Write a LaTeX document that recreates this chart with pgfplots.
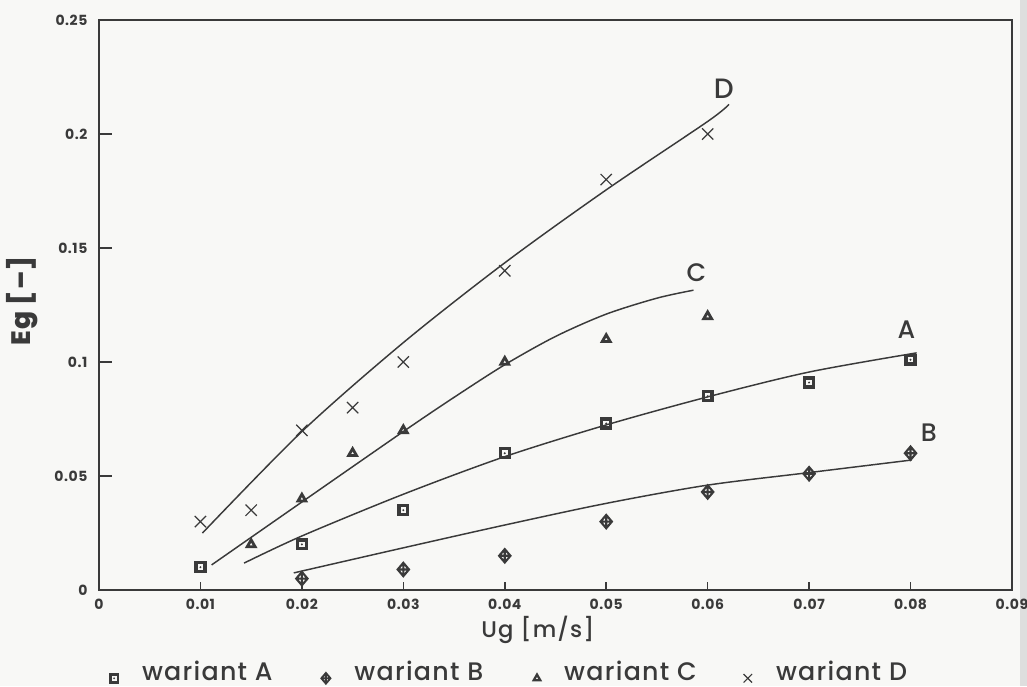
\documentclass[border=0pt]{standalone}
\usepackage{pgfplots}
\pgfplotsset{compat=1.18}
\usepackage{fontspec}
\setmainfont{Poppins}
\newfontfamily\medfont{Poppins Medium}[LetterSpace=5]
\newfontfamily\tickfont{Poppins}[LetterSpace=4]

\definecolor{ink}{HTML}{3A3A3A}
\definecolor{paper}{HTML}{F8F8F6}

% square with a dot in the middle
\pgfdeclareplotmark{sqdot}{%
  \pgfpathrectangle{\pgfqpoint{-\pgfplotmarksize}{-\pgfplotmarksize}}{\pgfqpoint{2\pgfplotmarksize}{2\pgfplotmarksize}}%
  \pgfusepathqstroke
  \pgfpathcircle{\pgfpointorigin}{0.25\pgfplotmarksize}%
  \pgfusepathqfill
}
% diamond with a cross inside
\pgfdeclareplotmark{diamplus}{%
  \pgfpathmoveto{\pgfqpoint{0pt}{\pgfplotmarksize}}%
  \pgfpathlineto{\pgfqpoint{.85\pgfplotmarksize}{0pt}}%
  \pgfpathlineto{\pgfqpoint{0pt}{-\pgfplotmarksize}}%
  \pgfpathlineto{\pgfqpoint{-.85\pgfplotmarksize}{0pt}}%
  \pgfpathclose
  \pgfpathmoveto{\pgfqpoint{0pt}{\pgfplotmarksize}}%
  \pgfpathlineto{\pgfqpoint{0pt}{-\pgfplotmarksize}}%
  \pgfpathmoveto{\pgfqpoint{-.85\pgfplotmarksize}{0pt}}%
  \pgfpathlineto{\pgfqpoint{.85\pgfplotmarksize}{0pt}}%
  \pgfusepathqstroke
}

\newcommand{\legtext}[1]{\makebox[148.5pt][l]{\hspace*{16pt}#1}}

\begin{document}
\begin{tikzpicture}
\fill[paper] (-74.25pt,-72pt) rectangle (696pt,442.5pt);
\useasboundingbox (-74.25pt,-72pt) rectangle (696pt,442.5pt);
\fill[black!13] (690.75pt,-72pt) rectangle (696pt,442.5pt);
\begin{axis}[
  scale only axis,
  width=684.75pt, height=427.5pt,
  xmin=0, xmax=0.09, ymin=0, ymax=0.25,
  axis line style={line width=1.5pt, ink},
  xtick={0,0.01,0.02,0.03,0.04,0.05,0.06,0.07,0.08,0.09},
  xticklabels={0,0.01,0.02,0.03,0.04,0.05,0.06,0.07,0.08,0.09},
  ytick={0,0.05,0.1,0.15,0.2,0.25},
  yticklabels={0,0.05,0.1,0.15,0.2,0.25},
  scaled x ticks=false, scaled y ticks=false,
  xtick pos=bottom, ytick pos=left, tick align=inside,
  major tick style={line width=1.1pt, ink},
  xtick style={/pgfplots/major tick length=6pt},
  ytick style={/pgfplots/major tick length=9.75pt},
  /pgf/number format/assume math mode=true,
  ticklabel style={font=\tickfont\bfseries\fontsize{10.5}{12}\selectfont, text=ink, inner sep=0pt},
  xticklabel style={anchor=north, yshift=-6.75pt},
  yticklabel style={anchor=east, xshift=-8.5pt},
  xlabel={Ug [m/s]},
  xlabel style={font=\medfont\fontsize{17}{20}\selectfont, text=ink,
    at={(axis description cs:0.4808,-0.0825)}, anchor=base},
  ylabel={Eg [\textendash]},
  ylabel style={font=\medfont\bfseries\fontsize{20}{24}\selectfont, text=ink,
    at={(axis description cs:-0.0843,0.507)}, anchor=center},
  legend columns=4,
  legend style={at={(axis description cs:0.0077,-0.1145)}, anchor=north west,
    draw=none, fill=none, column sep=0pt,
    font=\medfont\fontsize{19}{22}\selectfont, text=ink},
]

% fitted curves
\addplot[forget plot, ink, line width=1.1pt, smooth] coordinates {
  (0.0102,0.025) (0.020,0.0695) (0.030,0.1085) (0.040,0.1435)
  (0.050,0.1755) (0.060,0.2055) (0.0621,0.2130)};
\addplot[forget plot, ink, line width=1.1pt, smooth] coordinates {
  (0.0111,0.011) (0.020,0.0386) (0.030,0.0695) (0.035,0.0845)
  (0.040,0.0988) (0.045,0.1112) (0.050,0.1210) (0.055,0.1280) (0.0586,0.1315)};
\addplot[forget plot, ink, line width=1.1pt, smooth] coordinates {
  (0.0143,0.0118) (0.020,0.0237) (0.030,0.0420) (0.040,0.0585)
  (0.050,0.0724) (0.060,0.0847) (0.070,0.0956) (0.0806,0.104)};
\addplot[forget plot, ink, line width=1.1pt, smooth] coordinates {
  (0.0192,0.0075) (0.030,0.0185) (0.040,0.0285) (0.050,0.0380)
  (0.060,0.0460) (0.070,0.0515) (0.0801,0.057)};

% measured points
\addplot[only marks, forget plot, ink, mark=sqdot, mark size=3.3pt,
  mark options={line width=2.5pt}] coordinates {
  (0.01,0.010) (0.02,0.020) (0.03,0.035) (0.04,0.060)
  (0.05,0.073) (0.06,0.085) (0.07,0.091) (0.08,0.101)};
\addplot[only marks, forget plot, ink, mark=diamplus, mark size=5pt,
  mark options={line width=1.6pt}] coordinates {
  (0.02,0.005) (0.03,0.009) (0.04,0.015) (0.05,0.030)
  (0.06,0.043) (0.07,0.051) (0.08,0.060)};
\addplot[only marks, forget plot, ink, mark=triangle, mark size=3.4pt,
  mark options={line width=2.1pt}] coordinates {
  (0.015,0.020) (0.02,0.040) (0.025,0.060) (0.03,0.070)
  (0.04,0.100) (0.05,0.110) (0.06,0.120)};
\addplot[only marks, forget plot, ink, mark=x, mark size=6pt,
  mark options={line width=0.9pt}] coordinates {
  (0.01,0.030) (0.015,0.035) (0.02,0.070) (0.025,0.080)
  (0.03,0.100) (0.04,0.140) (0.05,0.180) (0.06,0.200)};

% curve names
\node[font=\medfont\fontsize{21}{24}\selectfont, text=ink] at (axis cs:0.0616,0.220) {D};
\node[font=\medfont\fontsize{19}{22}\selectfont, text=ink] at (axis cs:0.0589,0.139) {C};
\node[font=\medfont\fontsize{19}{22}\selectfont, text=ink] at (axis cs:0.0796,0.114) {A};
\node[font=\medfont\fontsize{19}{22}\selectfont, text=ink] at (axis cs:0.0818,0.069) {B};

% legend
\addlegendimage{only marks, ink, mark=sqdot, mark size=2.9pt, mark options={line width=2.1pt, yshift=-5pt}}
\addlegendentry{\legtext{wariant A}}
\addlegendimage{only marks, ink, mark=diamplus, mark size=4pt, mark options={line width=1.4pt, yshift=-5pt}}
\addlegendentry{\legtext{wariant B}}
\addlegendimage{only marks, ink, mark=triangle, mark size=2.8pt, mark options={line width=1.7pt, yshift=-5pt}}
\addlegendentry{\legtext{wariant C}}
\addlegendimage{only marks, ink, mark=x, mark size=4.5pt, mark options={line width=0.9pt, yshift=-5pt}}
\addlegendentry{\legtext{wariant D}}
\end{axis}
\end{tikzpicture}
\end{document}
